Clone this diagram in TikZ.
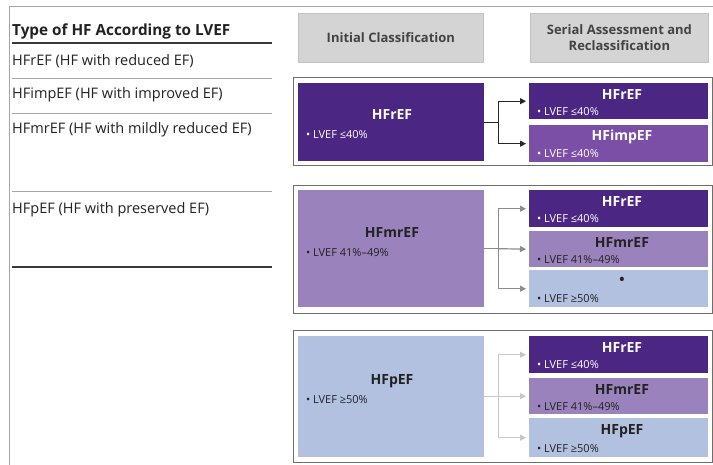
\documentclass[tikz,border=0pt]{standalone}
\usepackage{fontspec}
\setmainfont{Open Sans}
\usetikzlibrary{arrows.meta,calc}
\definecolor{cRef}{HTML}{4B2683}
\definecolor{cImp}{HTML}{7C4FA6}
\definecolor{cMr}{HTML}{9A83BC}
\definecolor{cP}{HTML}{B3C1E0}
\definecolor{hdrfill}{HTML}{D4D4D4}
\definecolor{hdrline}{HTML}{C2C2C2}
\definecolor{frameline}{HTML}{6E6E6E}
\definecolor{darktext}{HTML}{222222}
\tikzset{
  box/.style={rectangle,anchor=north west,inner sep=0pt,draw=none},
  hdr/.style={rectangle,anchor=north west,inner sep=0pt,fill=hdrfill,draw=hdrline,line width=0.8pt,
    align=center,font=\fontsize{13}{16}\selectfont\bfseries,text=darktext!85!white},
  grp/.style={rectangle,anchor=north west,inner sep=0pt,draw=frameline,line width=1.4pt},
  ttl/.style={font=\fontsize{14}{16}\selectfont\bfseries,inner sep=0pt},
  bul/.style={font=\fontsize{11}{12}\selectfont,inner sep=0pt,anchor=west},
  row/.style={font=\fontsize{14.5}{17}\selectfont,text=darktext,inner sep=0pt,anchor=west},
  thick rule/.style={line width=2pt,draw=darktext!90!white},
  thin rule/.style={line width=0.9pt,draw=gray!70},
  conn1/.style={line width=1.2pt,draw=gray!30!black},
  conn2/.style={line width=1.2pt,draw=gray!90},
  conn3/.style={line width=1.2pt,draw=gray!45},
  tip/.style={-{Triangle[length=6pt,width=6pt]},shorten >=3pt},
}
\begin{document}
\begin{tikzpicture}[x=1pt,y=-1pt]
\useasboundingbox (0,0) rectangle (713,465);
\fill[white] (0,0) rectangle (713,465);
% outer frame
\draw[line width=1pt,draw=gray!70] (9,465) -- (9,7) -- (713,7);

% left table
\node[row,font=\fontsize{15.3}{17}\selectfont\bfseries] (tt) at (12,31) {Type of HF According to LVEF};
\draw[thick rule] (12,43) -- (272,43);
\node[row] (r1) at (12,61) {HFrEF (HF with reduced EF)};
\draw[thin rule] (12,78) -- (272,78);
\node[row] (r2) at (12,95) {HFimpEF (HF with improved EF)};
\draw[thin rule] (12,113) -- (272,113);
\node[row] (r3) at (12,130) {HFmrEF (HF with mildly reduced EF)};
\draw[thin rule] (12,191) -- (272,191);
\node[row] (r4) at (12,210) {HFpEF (HF with preserved EF)};
\draw[thick rule] (12,267) -- (272,267);

% headers
\node[hdr,minimum width=185pt,minimum height=49pt] (h1) at (298,13) {Initial Classification};
\node[hdr,minimum width=178pt,minimum height=49pt] (h2) at (530,13) {Serial Assessment and\\Reclassification};

% ---------- group 1
\node[grp,minimum width=419pt,minimum height=88pt] (g1) at (293,77) {};
\node[box,fill=cRef,minimum width=186pt,minimum height=78pt] (i1) at (298,83) {};
\node[ttl,text=white] (i1t) at (392,115) {HFrEF};
\node[bul,text=white] (i1b) at (306,135) {• LVEF ≤40\%};
\node[box,fill=cRef,minimum width=179pt,minimum height=36pt] (a1) at (529,83) {};
\node[ttl,text=white] (a1t) at (622,95) {HFrEF};
\node[bul,text=white] (a1b) at (537,112) {• LVEF ≤40\%};
\node[box,fill=cImp,minimum width=179pt,minimum height=37pt] (a2) at (529,125) {};
\node[ttl,text=white] (a2t) at (622,137) {HFimpEF};
\node[bul,text=white] (a2b) at (537,154) {• LVEF ≤40\%};
\draw[conn1] (i1.east) -- ++(14,0) coordinate (j1);
\draw[conn1] (j1 |- a1.west) -- (j1 |- a2.west);
\draw[conn1,tip] (j1 |- a1.west) -- (a1.west);
\draw[conn1,tip] (j1 |- a2.west) -- (a2.west);

% ---------- group 2
\node[grp,minimum width=419pt,minimum height=128pt] (g2) at (293,185) {};
\node[box,fill=cMr,minimum width=186pt,minimum height=117pt] (i2) at (298,190) {};
\node[ttl,text=darktext] (i2t) at (392,233) {HFmrEF};
\node[bul,text=darktext] (i2b) at (306,253) {• LVEF 41\%–49\%};
\node[box,fill=cRef,minimum width=179pt,minimum height=37pt] (b1) at (529,190) {};
\node[ttl,text=white] (b1t) at (622,202) {HFrEF};
\node[bul,text=white] (b1b) at (537,219) {• LVEF ≤40\%};
\node[box,fill=cMr,minimum width=179pt,minimum height=36pt] (b2) at (529,231) {};
\node[ttl,text=darktext] (b2t) at (622,243) {HFmrEF};
\node[bul,text=darktext] (b2b) at (537,260) {• LVEF 41\%–49\%};
\node[box,fill=cP,minimum width=179pt,minimum height=37pt] (b3) at (529,270) {};
\node[ttl,text=darktext] (b3t) at (622,281) {•};
\node[bul,text=darktext] (b3b) at (537,299) {• LVEF ≥50\%};
\draw[conn2] (i2.east) -- ++(14,0) coordinate (j2);
\draw[conn2] (j2 |- b1.west) -- (j2 |- b3.west);
\draw[conn2,tip] (j2 |- b1.west) -- (b1.west);
\draw[conn2,tip] (j2) -- (b2.west);
\draw[conn2,tip] (j2 |- b3.west) -- (b3.west);

% ---------- group 3
\node[grp,minimum width=419pt,minimum height=132pt] (g3) at (293,330) {};
\node[box,fill=cP,minimum width=186pt,minimum height=121pt] (i3) at (298,336) {};
\node[ttl,text=darktext] (i3t) at (392,381) {HFpEF};
\node[bul,text=darktext] (i3b) at (306,400) {• LVEF ≥50\%};
\node[box,fill=cRef,minimum width=179pt,minimum height=37pt] (c1) at (529,336) {};
\node[ttl,text=white] (c1t) at (622,348) {HFrEF};
\node[bul,text=white] (c1b) at (537,365) {• LVEF ≤40\%};
\node[box,fill=cMr,minimum width=179pt,minimum height=36pt] (c2) at (529,378) {};
\node[ttl,text=darktext] (c2t) at (622,390) {HFmrEF};
\node[bul,text=darktext] (c2b) at (537,407) {• LVEF 41\%–49\%};
\node[box,fill=cP,minimum width=179pt,minimum height=39pt] (c3) at (529,418) {};
\node[ttl,text=darktext] (c3t) at (622,431) {HFpEF};
\node[bul,text=darktext] (c3b) at (537,449) {• LVEF ≥50\%};
\draw[conn3] (i3.east) -- ++(14,0) coordinate (j3);
\draw[conn3] (j3 |- c1.west) -- (j3 |- c3.west);
\draw[conn3,tip] (j3 |- c1.west) -- (c1.west);
\draw[conn3,tip] (j3 |- c2.west) -- (c2.west);
\draw[conn3,tip] (j3 |- c3.west) -- (c3.west);
\end{tikzpicture}
\end{document}
